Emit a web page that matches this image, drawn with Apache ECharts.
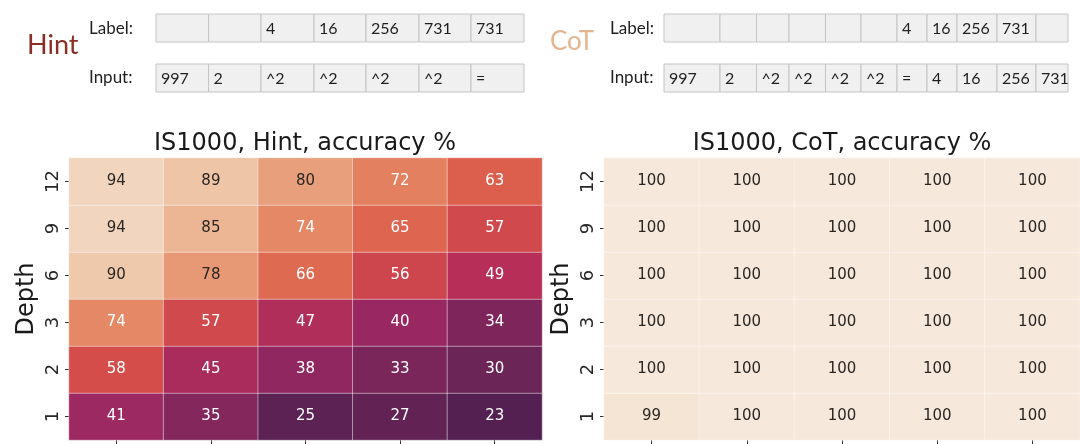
<!DOCTYPE html>
<html><head><meta charset="utf-8">
<script src="https://cdn.jsdelivr.net/npm/echarts@6/dist/echarts.min.js"></script>
<style>html,body{margin:0;padding:0;background:#fff}#chart{width:1080px;height:444px}</style>
</head><body><div id="chart"></div>
<script>
// ---------- data ----------
const depths = ['1', '2', '3', '6', '9', '12'];          // y categories, bottom -> top
const columns = ['A', 'B', 'C', 'D', 'E'];                // x categories (labels cropped in reference)
// accuracy %, rows ordered depth 1 (bottom) -> depth 12 (top)
const hintAcc = [
  [41, 35, 25, 27, 23],
  [58, 45, 38, 33, 30],
  [74, 57, 47, 40, 34],
  [90, 78, 66, 56, 49],
  [94, 85, 74, 65, 57],
  [94, 89, 80, 72, 63]
];
const cotAcc = [
  [99, 100, 100, 100, 100],
  [100, 100, 100, 100, 100],
  [100, 100, 100, 100, 100],
  [100, 100, 100, 100, 100],
  [100, 100, 100, 100, 100],
  [100, 100, 100, 100, 100]
];
const hintTitle = 'IS1000, Hint, accuracy %';
const cotTitle = 'IS1000, CoT, accuracy %';
const hintLabelRow = ['', '', '4', '16', '256', '731', '731'];
const hintInputRow = ['997', '2', '^2', '^2', '^2', '^2', '='];
const cotLabelRow = ['', '', '', '', '', '', '4', '16', '256', '731', ''];
const cotInputRow = ['997', '2', '^2', '^2', '^2', '^2', '=', '4', '16', '256', '731'];

// ---------- layout (not data) ----------
const hintEdges = [156, 208.6, 261, 314, 366, 419, 471, 524];
const cotEdges = [664, 720, 756.5, 789, 825.5, 861, 897, 927, 957, 997, 1036, 1068];
const rowLabelY = [14, 42];
const rowInputY = [64, 92];
const sans = 'Lato, "Open Sans", sans-serif';
const dv = '"DejaVu Sans", sans-serif';

function tableGraphics(edges, labelRow, inputRow) {
  const els = [];
  [[rowLabelY, labelRow], [rowInputY, inputRow]].forEach(([ry, row]) => {
    row.forEach((t, i) => {
      els.push({
        type: 'rect',
        shape: { x: edges[i], y: ry[0], width: edges[i + 1] - edges[i], height: ry[1] - ry[0] },
        style: { fill: '#f0f0f0', stroke: '#c4c4c4', lineWidth: 1 }
      });
      if (t) {
        els.push({
          type: 'text', x: edges[i] + 5, y: (ry[0] + ry[1]) / 2 + 1,
          style: { text: t, fontSize: 16, fontFamily: sans, fill: '#1f1f1f', verticalAlign: 'middle', align: 'left' }
        });
      }
    });
  });
  return els;
}

function textEl(txt, x, y, size, color) {
  return { type: 'text', x: x, y: y,
    style: { text: txt, fontSize: size, fontFamily: sans, fill: color, verticalAlign: 'middle', align: 'left' } };
}

const graphics = []
  .concat(tableGraphics(hintEdges, hintLabelRow, hintInputRow))
  .concat(tableGraphics(cotEdges, cotLabelRow, cotInputRow))
  .concat([
    textEl('Hint', 27, 45, 27, '#8b2e26'),
    textEl('Label:', 89, 29, 17, '#1f1f1f'),
    textEl('Input:', 89, 78, 17, '#1f1f1f'),
    textEl('CoT', 550, 42, 26, '#e6b48f'),
    textEl('Label:', 610, 29, 17, '#1f1f1f'),
    textEl('Input:', 610, 78, 17, '#1f1f1f')
  ]);

function buildData(acc) {
  const out = [];
  acc.forEach((row, yi) => row.forEach((v, xi) => {
    out.push({ value: [xi, yi, v], label: { color: v >= 76 ? '#2a2623' : '#ffffff' } });
  }));
  return out;
}

function xAxis(gi) {
  return {
    type: 'category', gridIndex: gi, data: columns, position: 'bottom',
    axisLine: { show: false }, splitLine: { show: false },
    axisTick: { show: true, alignWithLabel: true, length: 4, lineStyle: { color: '#333' } },
    axisLabel: { show: false }
  };
}
function yAxis(gi) {
  return {
    type: 'category', gridIndex: gi, data: depths,
    axisLine: { show: false }, splitLine: { show: false },
    axisTick: { show: true, alignWithLabel: true, length: 4, lineStyle: { color: '#333' } },
    axisLabel: { rotate: 90, fontSize: 18, fontFamily: dv, color: '#262626', margin: 7 },
    name: 'Depth', nameLocation: 'middle', nameGap: 30,
    nameTextStyle: { fontSize: 24, fontFamily: dv, color: '#1a1a1a' }
  };
}

const chart = echarts.init(document.getElementById('chart'), null, { renderer: 'canvas' });
chart.setOption({
  animation: false,
  backgroundColor: '#ffffff',
  title: [
    { text: hintTitle, left: 305, top: 132, textAlign: 'center', padding: 0,
      textStyle: { fontFamily: dv, fontSize: 24, fontWeight: 'normal', color: '#1a1a1a' } },
    { text: cotTitle, left: 842, top: 132, textAlign: 'center', padding: 0,
      textStyle: { fontFamily: dv, fontSize: 24, fontWeight: 'normal', color: '#1a1a1a' } }
  ],
  grid: [
    { left: 69, top: 158, width: 473, height: 282 },
    { left: 604, top: 158, width: 476, height: 282 }
  ],
  xAxis: [xAxis(0), xAxis(1)],
  yAxis: [yAxis(0), yAxis(1)],
  visualMap: {
    type: 'continuous', show: false, min: 0, max: 100, seriesIndex: [0, 1], dimension: 2,
    inRange: { color: ['#1a0f2a', '#2c1640', '#4a1e4e', '#6c2557', '#992862', '#ba3057',
                       '#da5448', '#e27858', '#e8a07c', '#efc9ac', '#f6e8da'] }
  },
  series: [
    { type: 'heatmap', xAxisIndex: 0, yAxisIndex: 0, data: buildData(hintAcc),
      label: { show: true, fontSize: 15, fontFamily: dv },
      itemStyle: { borderColor: 'rgba(255,255,255,0.45)', borderWidth: 1 },
      emphasis: { disabled: true } },
    { type: 'heatmap', xAxisIndex: 1, yAxisIndex: 1, data: buildData(cotAcc),
      label: { show: true, fontSize: 15, fontFamily: dv },
      itemStyle: { borderColor: 'rgba(255,255,255,0.45)', borderWidth: 1 },
      emphasis: { disabled: true } }
  ],
  graphic: graphics
});
</script>
</body></html>
